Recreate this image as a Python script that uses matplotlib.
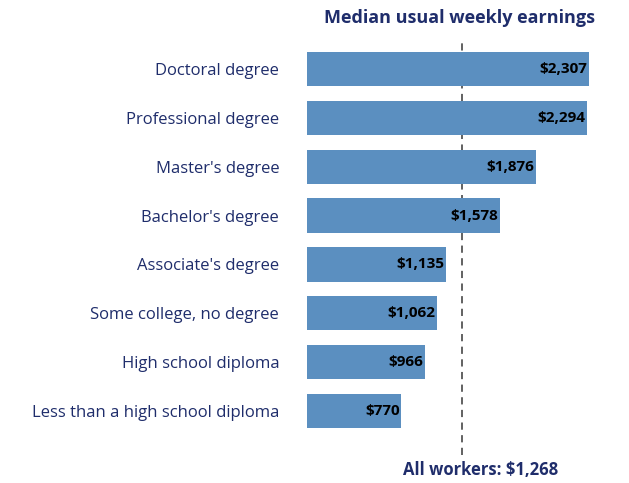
import matplotlib
matplotlib.use("Agg")
import matplotlib.pyplot as plt

categories = ["Doctoral degree", "Professional degree", "Master's degree", "Bachelor's degree",
              "Associate's degree", "Some college, no degree", "High school diploma",
              "Less than a high school diploma"]
earnings = [2307, 2294, 1876, 1578, 1135, 1062, 966, 770]
all_workers = 1268

navy = "#1f2d6b"
plt.rcParams['font.family'] = ['Open Sans', 'DejaVu Sans']
fig = plt.figure(figsize=(6.29, 4.83), dpi=100)
ax = fig.add_axes([0.488, 0.058, 0.466, 0.859])
y = list(range(len(categories)))
ax.barh(y, earnings, height=0.7, color="#5b8fc0")
for yi, v in zip(y, earnings):
    ax.text(v - 12, yi, f"${v:,}", ha="right", va="center", fontsize=11, fontweight="bold", color="black")
ax.axvline(all_workers, color="#555555", linestyle=(0, (4, 3)), linewidth=1.3, zorder=0)
ax.set_xlim(0, 2400)
ax.set_ylim(7 + 0.9, -0.59)
ax.set_yticks(y)
ax.set_yticklabels(categories, fontsize=12, color=navy)
ax.tick_params(axis="y", length=0, pad=20)
ax.set_xticks([])
for s in ax.spines.values():
    s.set_visible(False)
fig.text(459 / 629, 1 - 18 / 483, "Median usual weekly earnings", ha="center", va="center",
         fontsize=13, fontweight="bold", color=navy)
fig.text(481 / 629, 1 - 470 / 483, f"All workers: ${all_workers:,}", ha="center", va="center",
         fontsize=12, fontweight="bold", color=navy)
fig.savefig("out.png", dpi=100)
